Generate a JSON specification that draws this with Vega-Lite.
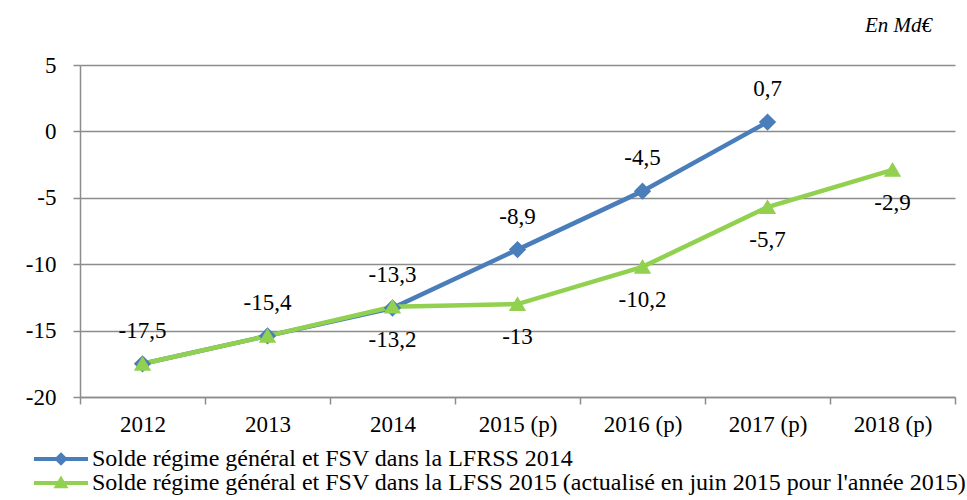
{
  "$schema": "https://vega.github.io/schema/vega-lite/v6.json",
  "width": 875,
  "height": 332,
  "autosize": "none",
  "padding": {"left": 80, "top": 65, "right": 12, "bottom": 103},
  "background": "white",
  "config": {
    "font": "Liberation Serif",
    "locale": {"number": {"decimal": ",", "thousands": " ", "grouping": [3], "currency": ["", " €"], "minus": "-"}},
    "view": {"stroke": null}
  },
  "title": {"text": "En Md€", "anchor": "end", "frame": "group", "fontStyle": "italic", "fontWeight": "normal", "fontSize": 21, "font": "Liberation Serif", "color": "black", "baseline": "bottom", "offset": -3, "dx": -23},
  "data": {
    "values": [
      {"year": "2012", "series": "Solde régime général et FSV dans la LFRSS 2014", "value": -17.5},
      {"year": "2013", "series": "Solde régime général et FSV dans la LFRSS 2014", "value": -15.4},
      {"year": "2014", "series": "Solde régime général et FSV dans la LFRSS 2014", "value": -13.3},
      {"year": "2015 (p)", "series": "Solde régime général et FSV dans la LFRSS 2014", "value": -8.9},
      {"year": "2016 (p)", "series": "Solde régime général et FSV dans la LFRSS 2014", "value": -4.5},
      {"year": "2017 (p)", "series": "Solde régime général et FSV dans la LFRSS 2014", "value": 0.7},
      {"year": "2012", "series": "Solde régime général et FSV dans la LFSS 2015 (actualisé en juin 2015 pour l'année 2015)", "value": -17.5},
      {"year": "2013", "series": "Solde régime général et FSV dans la LFSS 2015 (actualisé en juin 2015 pour l'année 2015)", "value": -15.4},
      {"year": "2014", "series": "Solde régime général et FSV dans la LFSS 2015 (actualisé en juin 2015 pour l'année 2015)", "value": -13.2},
      {"year": "2015 (p)", "series": "Solde régime général et FSV dans la LFSS 2015 (actualisé en juin 2015 pour l'année 2015)", "value": -13},
      {"year": "2016 (p)", "series": "Solde régime général et FSV dans la LFSS 2015 (actualisé en juin 2015 pour l'année 2015)", "value": -10.2},
      {"year": "2017 (p)", "series": "Solde régime général et FSV dans la LFSS 2015 (actualisé en juin 2015 pour l'année 2015)", "value": -5.7},
      {"year": "2018 (p)", "series": "Solde régime général et FSV dans la LFSS 2015 (actualisé en juin 2015 pour l'année 2015)", "value": -2.9}
    ]
  },
  "encoding": {
    "x": {
      "field": "year", "type": "nominal", "sort": null, "bandPosition": 0.5,
      "scale": {"type": "band", "paddingInner": 0, "paddingOuter": 0, "domain": ["2012", "2013", "2014", "2015 (p)", "2016 (p)", "2017 (p)", "2018 (p)"]},
      "axis": {"title": null, "labelAngle": 0, "tickBand": "extent", "grid": false, "ticks": true, "tickSize": 7, "tickColor": "#8c8c8c", "tickWidth": 1.5, "domain": true, "domainColor": "#8c8c8c", "domainWidth": 1.5, "labelFontSize": 23, "labelColor": "black", "labelPadding": 9, "labelFont": "Liberation Serif"}
    },
    "y": {
      "field": "value", "type": "quantitative",
      "scale": {"domain": [-20, 5], "nice": false, "zero": false},
      "axis": {"title": null, "values": [-20, -15, -10, -5, 0, 5], "grid": true, "gridColor": "#8c8c8c", "gridWidth": 1.5, "ticks": true, "tickSize": 7, "tickColor": "#8c8c8c", "tickWidth": 1.5, "domain": true, "domainColor": "#8c8c8c", "domainWidth": 1.5, "labelFontSize": 23, "labelColor": "black", "labelPadding": 17, "labelFont": "Liberation Serif"}
    }
  },
  "layer": [
    {
      "mark": {"type": "line", "strokeWidth": 4.5},
      "encoding": {
        "color": {"field": "series", "type": "nominal",
          "scale": {"domain": ["Solde régime général et FSV dans la LFRSS 2014", "Solde régime général et FSV dans la LFSS 2015 (actualisé en juin 2015 pour l'année 2015)"], "range": ["#4A7EBB", "#92D050"]},
          "legend": {
            "title": null, "orient": "none", "legendX": -31, "legendY": 382, "direction": "vertical",
            "padding": 0, "symbolSize": 64, "symbolStrokeWidth": 4, "labelOffset": 19, "rowPadding": 0,
            "labelFontSize": 24, "labelColor": "black", "labelFont": "Liberation Serif", "labelLimit": 0
          }
        }
      }
    },
    {
      "mark": {"type": "point", "filled": true, "opacity": 1, "size": 300},
      "encoding": {
        "color": {"field": "series", "type": "nominal"},
        "shape": {
          "field": "series", "type": "nominal",
          "scale": {"domain": ["Solde régime général et FSV dans la LFRSS 2014", "Solde régime général et FSV dans la LFSS 2015 (actualisé en juin 2015 pour l'année 2015)"],
            "range": ["M-6.75,0L6.75,0M0,-1L1,0L0,1L-1,0Z", "M-6.75,0L6.75,0M0,-0.9L1,0.8L-1,0.8Z"]}
        }
      }
    },
    {
      "transform": [{"filter": "indexof(datum.series, 'LFRSS') >= 0"}],
      "mark": {"type": "text", "dy": -33, "fontSize": 23, "color": "black", "font": "Liberation Serif"},
      "encoding": {"text": {"field": "value", "type": "quantitative", "format": "~g"}}
    },
    {
      "transform": [{"filter": "indexof(datum.series, 'LFRSS') < 0 && datum.year != '2012' && datum.year != '2013'"}],
      "mark": {"type": "text", "dy": 33, "fontSize": 23, "color": "black", "font": "Liberation Serif"},
      "encoding": {"text": {"field": "value", "type": "quantitative", "format": "~g"}}
    }
  ]
}
